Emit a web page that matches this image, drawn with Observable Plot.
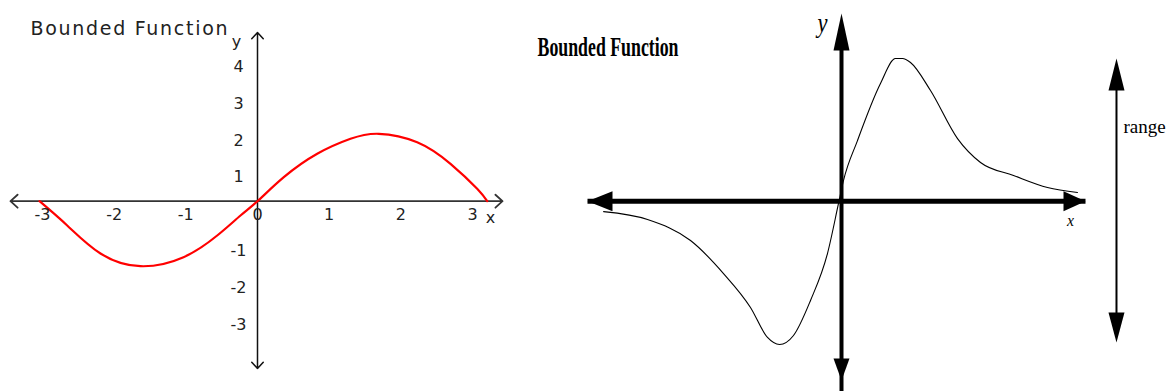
<!DOCTYPE html>
<html><head><meta charset="utf-8">
<script src="https://cdn.jsdelivr.net/npm/d3@7"></script>
<script src="https://cdn.jsdelivr.net/npm/@observablehq/plot@0.6"></script>
<style>
body{margin:0;background:#fff}
#wrap{position:relative;width:1171px;height:391px;overflow:hidden;background:#fff}
#left,#right{position:absolute;top:0}
#left{left:0}
#right{left:520px}
</style></head><body>
<div id="wrap"><div id="left"></div><div id="right"></div></div>
<script>
// ---------- Left panel data ----------
const leftTitle = "Bounded Function";
const leftCurveX = [-3.04, -2.654, -2.19, -1.632, -1.032, -0.562, -0.237, 0, 0.367, 0.833, 1.297, 1.692, 2.227, 2.692, 3.064, 3.204];
const leftCurveY = [0, -0.659, -1.419, -1.763, -1.519, -0.931, -0.388, 0, 0.651, 1.286, 1.693, 1.829, 1.601, 1.015, 0.336, 0];
const leftXTicks = [-3, -2, -1, 0, 1, 2, 3];
const leftYTicks = [4, 3, 2, 1, -1, -2, -3];
const leftXAxisExtent = [-3.445, 3.417];
const leftYAxisExtent = [-4.539, 4.577];
const leftAxisLabels = ["x", "y"];

// ---------- Right panel data ----------
const rightTitle = "Bounded Function";
const rightCurveX = [-3.90, -3.18, -2.475, -1.934, -1.492, -1.213, -1.016, -0.787, -0.508, -0.23, -0.049, 0.033, 0.262, 0.639, 0.885, 1.0, 1.131, 1.459, 1.902, 2.279, 2.82, 3.377, 3.869];
const rightCurveY = [-0.073, -0.128, -0.275, -0.506, -0.743, -0.953, -1.002, -0.939, -0.694, -0.366, -0.016, 0.145, 0.424, 0.823, 0.998, 0.998, 0.97, 0.774, 0.438, 0.271, 0.18, 0.096, 0.061];
const rightXAxisExtent = [-4.164, 4.0];
const rightYAxisExtent = [-1.36, 1.3126];
const rightYAxisBottomHead = -1.254;
const rangeArrowX = 4.508;
const rangeExtent = [-0.988, 0.998];
const rangeLabel = "range";
const rangeLabelY = 0.52;
const rightAxisLabels = ["x", "y"];

// ---------- Left panel ----------
const leftCurve = leftCurveX.map((x, i) => ({x, y: leftCurveY[i]}));
const left = Plot.plot({
  width: 520, height: 391, margin: 0,
  x: {domain: [-257 / 71.7, (520 - 257) / 71.7], range: [0, 520], axis: null},
  y: {domain: [-190.3 / 36.86, 200.7 / 36.86], range: [391, 0], axis: null},
  style: {background: "white", overflow: "visible"},
  marks: [
    Plot.arrow([
      {x1: 0, y1: 0, x2: leftXAxisExtent[0], y2: 0},
      {x1: 0, y1: 0, x2: leftXAxisExtent[1], y2: 0}
    ], {x1: "x1", y1: "y1", x2: "x2", y2: "y2", stroke: "#333", strokeWidth: 1.8, headLength: 8, headAngle: 85}),
    Plot.arrow([
      {x1: 0, y1: 0, x2: 0, y2: leftYAxisExtent[0]},
      {x1: 0, y1: 0, x2: 0, y2: leftYAxisExtent[1]}
    ], {x1: "x1", y1: "y1", x2: "x2", y2: "y2", stroke: "#111", strokeWidth: 1.5, headLength: 8.5, headAngle: 85}),
    Plot.line(leftCurve, {x: "x", y: "y", stroke: "#ff0000", strokeWidth: 2.2, curve: "natural"}),
    Plot.text(leftXTicks, {x: d => d, y: () => 0, dy: 14, text: d => String(d), fontSize: 16, fontFamily: "DejaVu Sans", fill: "#222"}),
    Plot.text(leftYTicks, {x: () => 0, y: d => d, dx: -19, dy: 13, text: d => String(d), fontSize: 16, fontFamily: "DejaVu Sans", fill: "#222"}),
    Plot.text([leftAxisLabels[0]], {x: () => leftXAxisExtent[1], y: () => 0, dx: -12, dy: 17, text: d => d, fontSize: 16, fontFamily: "DejaVu Sans", fill: "#222"}),
    Plot.text([leftAxisLabels[1]], {x: () => 0, y: () => leftYAxisExtent[1], dx: -21, dy: 9, text: d => d, fontSize: 16, fontFamily: "DejaVu Sans", fill: "#222"}),
    Plot.text([leftTitle], {frameAnchor: "top-left", text: d => d, dx: 30, dy: 20.6, textAnchor: "start", fontSize: 19, fontFamily: "DejaVu Sans", fill: "#222"})
  ]
});
document.getElementById("left").appendChild(left);

// ---------- Right panel ----------
const rightCurve = rightCurveX.map((x, i) => ({x, y: rightCurveY[i]}));
const right = Plot.plot({
  width: 651, height: 391, margin: 0,
  x: {domain: [-321 / 61, 330 / 61], range: [0, 651], axis: null},
  y: {domain: [-190.3 / 143, 200.7 / 143], range: [391, 0], axis: null},
  style: {background: "white", overflow: "visible"},
  marks: [
    Plot.line(rightCurve, {x: "x", y: "y", stroke: "black", strokeWidth: 1.1, curve: "monotone-x"}),
    Plot.link([{x1: rightXAxisExtent[0], x2: rightXAxisExtent[1], y1: 0, y2: 0}], {x1: "x1", x2: "x2", y1: "y1", y2: "y2", stroke: "black", strokeWidth: 5}),
    Plot.link([{x1: 0, x2: 0, y1: rightYAxisExtent[0], y2: rightYAxisExtent[1] - 0.1}], {x1: "x1", x2: "x2", y1: "y1", y2: "y2", stroke: "black", strokeWidth: 4}),
    Plot.vector([{x: rightXAxisExtent[0], y: 0, a: -90}], {x: "x", y: "y", rotate: "a", length: 25, r: 10, shape: "spike", anchor: "end", fill: "black", stroke: "none"}),
    Plot.vector([{x: rightXAxisExtent[1], y: 0, a: 90}], {x: "x", y: "y", rotate: "a", length: 22, r: 10, shape: "spike", anchor: "end", fill: "black", stroke: "none"}),
    Plot.vector([{x: 0, y: rightYAxisExtent[1], a: 0}], {x: "x", y: "y", rotate: "a", length: 37, r: 8, shape: "spike", anchor: "end", fill: "black", stroke: "none"}),
    Plot.vector([{x: 0, y: rightYAxisBottomHead, a: 180}], {x: "x", y: "y", rotate: "a", length: 22, r: 8, shape: "spike", anchor: "end", fill: "black", stroke: "none"}),
    Plot.link([{x1: rangeArrowX, x2: rangeArrowX, y1: rangeExtent[0] + 0.1, y2: rangeExtent[1] - 0.1}], {x1: "x1", x2: "x2", y1: "y1", y2: "y2", stroke: "black", strokeWidth: 2}),
    Plot.vector([{x: rangeArrowX, y: rangeExtent[1], a: 0}], {x: "x", y: "y", rotate: "a", length: 32, r: 8, shape: "spike", anchor: "end", fill: "black", stroke: "none"}),
    Plot.vector([{x: rangeArrowX, y: rangeExtent[0], a: 180}], {x: "x", y: "y", rotate: "a", length: 30, r: 8, shape: "spike", anchor: "end", fill: "black", stroke: "none"}),
    Plot.text([rangeLabel], {x: () => rangeArrowX, y: () => rangeLabelY, dx: 7, text: d => d, textAnchor: "start", fontSize: 19, fontFamily: "Liberation Serif", fill: "black"}),
    Plot.text([rightAxisLabels[0]], {x: () => rightXAxisExtent[1], y: () => 0, dx: -15, dy: 19, text: d => d, fontSize: 17, fontStyle: "italic", fontFamily: "Liberation Serif", fill: "black"}),
    Plot.text([rightAxisLabels[1]], {x: () => 0, y: () => rightYAxisExtent[1], dx: -19, dy: 10, text: d => d, fontSize: 27, fontStyle: "italic", fontFamily: "Liberation Serif", fill: "black"}),
    Plot.text([rightTitle], {frameAnchor: "top-left", text: d => d, dx: 17, dy: 36.4, textAnchor: "start", fontSize: 27, fontWeight: "bold", fontFamily: "Liberation Serif", fill: "black"})
  ]
});
document.getElementById("right").appendChild(right);

// text compression to match the condensed lettering
function fit(svg, content, len, adjust) {
  d3.select(svg).selectAll("text").filter(function () { return this.textContent === content; })
    .attr("textLength", len).attr("lengthAdjust", adjust);
}
fit(left, leftTitle, 197, "spacing");
fit(right, rightTitle, 141, "spacingAndGlyphs");
fit(right, "y", 10, "spacingAndGlyphs");
fit(right, "x", 7, "spacingAndGlyphs");
</script>
</body></html>
